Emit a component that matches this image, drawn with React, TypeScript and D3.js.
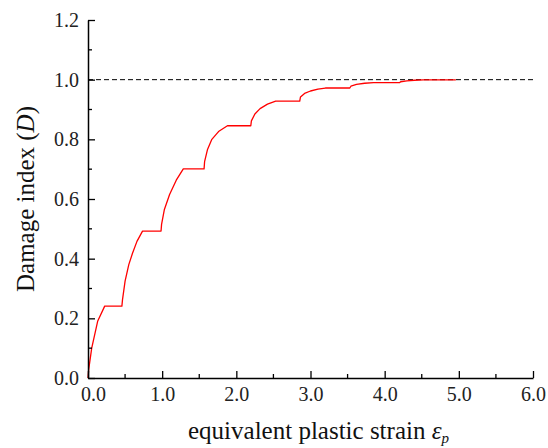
import React, { useEffect, useRef } from 'react';
import * as d3 from 'd3';

// equivalent plastic strain (x) and damage index D (y)
const strain = [
  0, 0.01, 0.05, 0.13, 0.225,
  0.457, 0.465, 0.5, 0.55, 0.6, 0.66, 0.735,
  0.985, 0.992, 1.03, 1.1, 1.19, 1.285,
  1.565, 1.572, 1.61, 1.67, 1.76, 1.88,
  2.195, 2.203, 2.25, 2.32, 2.42, 2.53,
  2.855, 2.865, 2.92, 3.0, 3.1, 3.2,
  3.53, 3.545, 3.62, 3.73, 3.85,
  4.2, 4.215, 4.3, 4.4, 4.52, 4.96,
];
const damage = [
  0, 0.03, 0.1, 0.19, 0.241,
  0.241, 0.262, 0.325, 0.38, 0.418, 0.458, 0.4925,
  0.4925, 0.515, 0.565, 0.615, 0.663, 0.701,
  0.701, 0.725, 0.765, 0.8, 0.826, 0.8455,
  0.8455, 0.862, 0.885, 0.903, 0.918, 0.928,
  0.928, 0.942, 0.954, 0.962, 0.968, 0.972,
  0.972, 0.978, 0.984, 0.988, 0.99,
  0.99, 0.993, 0.996, 0.998, 0.999, 0.999,
];

const xTicks = [0, 1, 2, 3, 4, 5, 6];
const xMinor = [0.5, 1.5, 2.5, 3.5, 4.5, 5.5];
const yTicks = [0, 0.2, 0.4, 0.6, 0.8, 1.0, 1.2];
const yMinor = [0.1, 0.3, 0.5, 0.7, 0.9, 1.1];
const limitLine = 1.0;

const W = 548;
const H = 448;
const FONT = '"Liberation Serif", "Times New Roman", serif';

const App = () => {
  const ref = useRef<SVGSVGElement | null>(null);

  useEffect(() => {
    const svg = d3.select(ref.current);
    svg.selectAll('*').remove();

    const x = d3.scaleLinear().domain([0, 6]).range([88, 533]);
    const y = d3.scaleLinear().domain([0, 1.2]).range([378, 20]);

    // dashed reference line at D = 1
    svg
      .append('line')
      .attr('x1', x(0))
      .attr('x2', x(6))
      .attr('y1', y(limitLine))
      .attr('y2', y(limitLine))
      .attr('stroke', '#000')
      .attr('stroke-width', 1)
      .attr('stroke-dasharray', '5,3');

    // damage curve
    const pts = strain.map((s, i) => [s, damage[i]] as [number, number]);
    const line = d3
      .line<[number, number]>()
      .x((d) => x(d[0]))
      .y((d) => y(d[1]));
    svg
      .append('path')
      .datum(pts)
      .attr('d', line)
      .attr('fill', 'none')
      .attr('stroke', '#ff0000')
      .attr('stroke-width', 1.3)
      .attr('stroke-linejoin', 'round');

    // axes (ticks point inward)
    const xAxis = svg
      .append('g')
      .attr('transform', `translate(0,${y(0)})`)
      .call(
        d3.axisBottom(x).tickValues(xTicks).tickSizeInner(-7).tickSizeOuter(0)
          .tickPadding(9).tickFormat(d3.format('.1f'))
      );
    xAxis
      .selectAll('.minor')
      .data(xMinor)
      .enter()
      .append('line')
      .attr('x1', (d) => x(d))
      .attr('x2', (d) => x(d))
      .attr('y1', 0)
      .attr('y2', -4)
      .attr('stroke', '#000')
      .attr('stroke-width', 1.3);
    // first x label is nudged right in the original
    xAxis.selectAll('.tick text').filter((d) => d === 0).attr('dx', 5);

    const yAxis = svg
      .append('g')
      .attr('transform', `translate(${x(0)},0)`)
      .call(
        d3.axisLeft(y).tickValues(yTicks).tickSizeInner(-7).tickSizeOuter(0)
          .tickPadding(9).tickFormat(d3.format('.1f'))
      );
    yAxis
      .selectAll('.minor')
      .data(yMinor)
      .enter()
      .append('line')
      .attr('y1', (d) => y(d))
      .attr('y2', (d) => y(d))
      .attr('x1', 0)
      .attr('x2', 4)
      .attr('stroke', '#000')
      .attr('stroke-width', 1.3);

    [xAxis, yAxis].forEach((g) => {
      g.select('.domain').attr('stroke-width', 1.5);
      g.selectAll('.tick line').attr('stroke-width', 1.3);
      g.selectAll('.tick text')
        .attr('font-family', FONT)
        .attr('font-size', 20)
        .attr('fill', '#222');
    });

    // axis titles
    const yt = svg
      .append('text')
      .attr('transform', `translate(34,${(y(0) + y(1.2)) / 2}) rotate(-90)`)
      .attr('text-anchor', 'middle')
      .attr('font-family', FONT)
      .attr('font-size', 25)
      .attr('fill', '#111');
    yt.append('tspan').text('Damage index (');
    yt.append('tspan').attr('font-style', 'italic').text('D');
    yt.append('tspan').text(')');

    const xt = svg
      .append('text')
      .attr('x', 188)
      .attr('y', 439)
      .attr('font-family', FONT)
      .attr('font-size', 25)
      .attr('fill', '#111');
    xt.append('tspan').text('equivalent plastic strain ');
    xt.append('tspan').attr('font-style', 'italic').text('ε');
    xt.append('tspan')
      .attr('font-style', 'italic')
      .attr('font-size', 15)
      .attr('dy', 4)
      .text('p');
  }, []);

  return (
    <svg
      ref={ref}
      width={W}
      height={H}
      style={{ position: 'absolute', left: 0, top: 0, background: '#fff' }}
    />
  );
};

export default App;
